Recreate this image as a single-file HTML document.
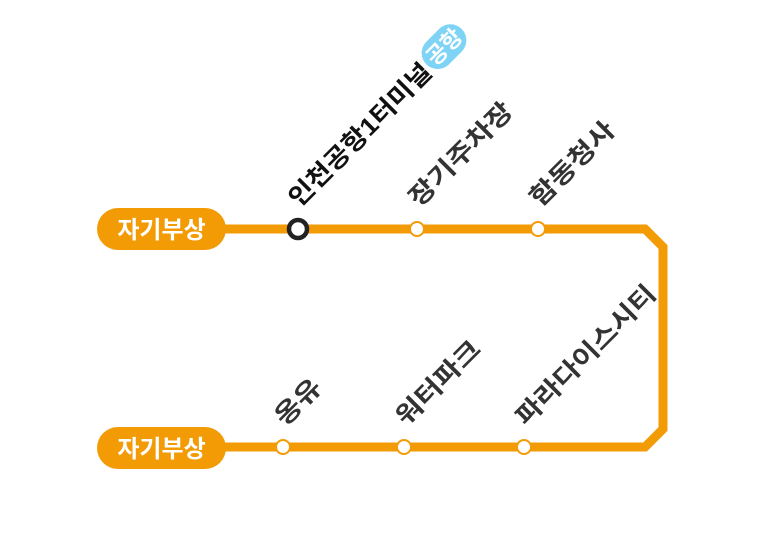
<!DOCTYPE html>
<html><head><meta charset="utf-8"><style>
html,body{margin:0;padding:0;background:#fff;}
svg{display:block;}
text{font-family:"Liberation Sans","Noto Sans CJK KR",sans-serif;font-weight:bold;}
</style></head><body>
<svg width="764" height="543" viewBox="0 0 764 543" xmlns="http://www.w3.org/2000/svg">
<path d="M220 229 H645 L663 247 V429 L645 447 H220" fill="none" stroke="#F29B05" stroke-width="9" stroke-linejoin="miter"/>
<rect x="97" y="208" width="129" height="42" rx="21" fill="#F29B05"/>
<rect x="97" y="427" width="129" height="42" rx="21" fill="#F29B05"/>
<text x="161.5" y="238" font-size="24" fill="#fff" text-anchor="middle">자기부상</text>
<text x="161.5" y="457" font-size="24" fill="#fff" text-anchor="middle">자기부상</text>
<circle cx="298" cy="229" r="9" fill="#fff" stroke="#222" stroke-width="4.5"/>
<circle cx="417" cy="229" r="7" fill="#fff" stroke="#F29B05" stroke-width="2"/>
<circle cx="538" cy="229" r="7" fill="#fff" stroke="#F29B05" stroke-width="2"/>
<circle cx="283" cy="447" r="7" fill="#fff" stroke="#F29B05" stroke-width="2"/>
<circle cx="404" cy="447" r="7" fill="#fff" stroke="#F29B05" stroke-width="2"/>
<circle cx="524" cy="447" r="7" fill="#fff" stroke="#F29B05" stroke-width="2"/>
<g font-size="25">
<text transform="translate(299,208) rotate(-45)" fill="#111" textLength="190" lengthAdjust="spacingAndGlyphs">인천공항1터미널</text>
<g transform="translate(432,70) rotate(-45)">
<rect x="0" y="-24" width="50" height="32" rx="16" fill="#7FD3F5"/>
<text x="25" y="0" font-size="22" fill="#fff" text-anchor="middle">공항</text>
</g>
<text transform="translate(419,208) rotate(-45)" fill="#333" textLength="135" lengthAdjust="spacingAndGlyphs">장기주차장</text>
<text transform="translate(540,208) rotate(-45)" fill="#333" textLength="108" lengthAdjust="spacingAndGlyphs">함동청사</text>
<text transform="translate(285,427) rotate(-45)" fill="#333" textLength="54" lengthAdjust="spacingAndGlyphs">옹유</text>
<text transform="translate(406,427) rotate(-45)" fill="#333" textLength="108" lengthAdjust="spacingAndGlyphs">워터파크</text>
<text transform="translate(526,427) rotate(-45)" fill="#333" textLength="186" lengthAdjust="spacingAndGlyphs">파라다이스시티</text>
</g>
</svg>
</body></html>
